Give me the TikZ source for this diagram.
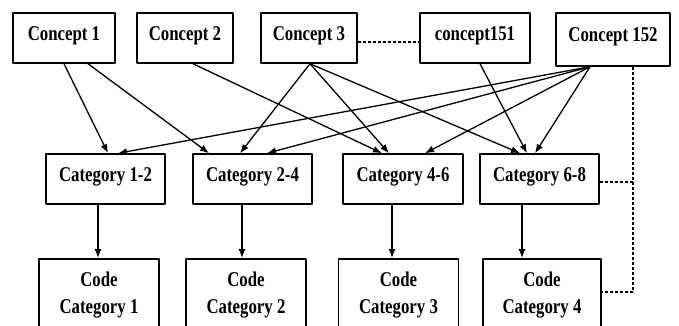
\documentclass[tikz,border=0pt]{standalone}
\usepackage{fontspec}
\setmainfont{Liberation Serif}[FakeStretch=0.8]
\usetikzlibrary{calc,arrows.meta}

\begin{document}
\begin{tikzpicture}[x=1pt,y=-1pt,line join=round,
    box/.style={draw,line width=1.5pt,inner sep=0pt,minimum height=50pt,
      font=\fontsize{21}{26.5}\selectfont\bfseries,text height=14.3pt,text depth=9.5pt},
    codebox/.style={draw,line width=1.5pt,inner sep=0pt,minimum width=120pt,minimum height=73pt,
      anchor=north,align=center,font=\fontsize{21}{26.5}\selectfont\bfseries},
    arr/.style={line width=1.3pt,-{Latex[length=9pt,width=7pt]}},
    dline/.style={line width=1.3pt,dash pattern=on 3pt off 2pt}]
    \useasboundingbox (0,0) rectangle (679,326);
    % concepts
    \node[box,minimum width=102pt] (c1)   at (64,38)    {Concept 1};
    \node[box,minimum width=96pt]  (c2)   at (185,38)   {Concept 2};
    \node[box,minimum width=96pt]  (c3)   at (309,38)   {Concept 3};
    \node[box,minimum width=110pt] (c151) at (475,38)   {concept151};
    \node[box,minimum width=114pt,minimum height=53pt] (c152) at (613,39.5) {Concept 152};
    % categories
    \node[box,minimum width=119pt] (k12) at (105.5,179) {Category 1-2};
    \node[box,minimum width=119pt] (k24) at (252.5,179) {Category 2-4};
    \node[box,minimum width=120pt] (k46) at (403,179)   {Category 4-6};
    \node[box,minimum width=119pt] (k68) at (539.5,179) {Category 6-8};
    % codes
    \node[codebox] (code1) at (99,258)    {Code\\Category 1};
    \node[codebox] (code2) at (246,258)   {Code\\Category 2};
    \node[codebox] (code3) at (398.5,258) {Code\\Category 3};
    \node[codebox,minimum width=118pt] (code4) at (542,258) {Code\\Category 4};
    % concept -> category
    \draw[arr] (c1.south) -- ([xshift=2.5pt]k12.north);
    \draw[arr] ([xshift=24pt]c1.south) -- ([xshift=-43.5pt]k24.north);
    \draw[arr] ([xshift=8pt]c2.south) -- ([xshift=-21pt]k46.north);
    \draw[arr] ([xshift=1pt]c3.south) -- ([xshift=-12.5pt]k24.north);
    \draw[arr] ([xshift=1pt]c3.south) -- ([xshift=-14pt]k46.north);
    \draw[arr] ([xshift=1pt]c3.south) -- ([xshift=-19.5pt]k68.north);
    \draw[arr] ([xshift=5pt]c151.south) -- ([xshift=-12.5pt]k68.north);
    \draw[arr] ([xshift=-23pt]c152.south) -- ([xshift=12.5pt]k12.north);
    \draw[arr] ([xshift=-23pt]c152.south) -- ([xshift=14.5pt]k24.north);
    \draw[arr] ([xshift=-23pt]c152.south) -- ([xshift=22pt]k46.north);
    \draw[arr] ([xshift=-23pt]c152.south) -- ([xshift=-4.5pt]k68.north);
    % category -> code
    \draw[arr] ([xshift=-7.5pt]k12.south) -- ([xshift=-7.5pt]k12.south |- code1.north);
    \draw[arr] ([xshift=-10.5pt]k24.south) -- ([xshift=-10.5pt]k24.south |- code2.north);
    \draw[arr] ([xshift=-11pt]k46.south) -- ([xshift=-11pt]k46.south |- code3.north);
    \draw[arr] ([xshift=-17.5pt]k68.south) -- ([xshift=-17.5pt]k68.south |- code4.north);
    % dashed links
    \coordinate (bend) at (633,292);
    \draw[dline] ([yshift=-4pt]c3.east) -- ([yshift=-4pt]c3.east -| c151.west);
    \draw[dline] (c152.south -| bend) -- (bend) -- (bend -| code4.east);
    \draw[dline] ([yshift=-3pt]k68.east) -- ([yshift=-3pt]k68.east -| bend);
\end{tikzpicture}
\end{document}
